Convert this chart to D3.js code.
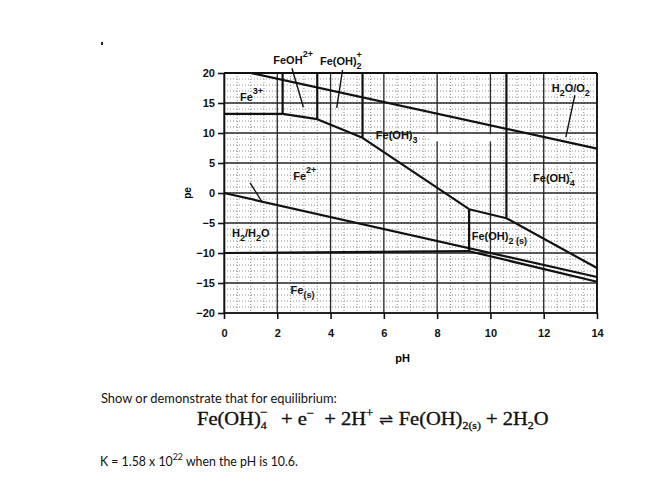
<!DOCTYPE html>
<html><head><meta charset="utf-8">
<script src="https://cdn.jsdelivr.net/npm/d3@7"></script>
<style>
body{margin:0;background:#fff;}
text{white-space:pre;}
</style></head>
<body>
<svg id="c" width="652" height="487"></svg>
<script>
// ---- data ----
const pHTicks = [0,2,4,6,8,10,12,14];
const peTicks = [20,15,10,5,0,-5,-10,-15,-20];
// boundary lines, [pH, pe]
const waterO2    = [[1.0,20],[14,7.4]];
const waterH2    = [[0,0],[14,-14.0]];
const fe3Fe2     = [[0,13.2],[2.2,13.2]];
const feoh2Fe2   = [[2.2,13.2],[3.5,12.3]];
const feoh2pFe2  = [[3.5,12.3],[5.2,9.2]];
const feoh3Fe2   = [[5.2,9.2],[9.2,-2.7]];
const feoh3Feoh2 = [[9.2,-2.7],[10.6,-4.2]];
const feoh4Feoh2 = [[10.6,-4.2],[14,-12.5]];
const fe2Feoh2   = [[9.2,-2.7],[9.2,-9.7]];
const fe2Fe      = [[0,-10],[9.2,-9.7]];
const feoh2Fe    = [[9.2,-9.7],[14,-14.8]];
const fe3Feoh    = [[2.2,13.2],[2.2,20]];
const feohFeoh2p = [[3.5,12.3],[3.5,20]];
const feoh2pFeoh3= [[5.2,9.2],[5.2,20]];
const feoh3Feoh4 = [[10.6,-4.2],[10.6,20]];
const boundaries = [waterO2,waterH2,fe3Fe2,feoh2Fe2,feoh2pFe2,feoh3Fe2,feoh3Feoh2,
  feoh4Feoh2,fe2Feoh2,fe2Fe,feoh2Fe,fe3Feoh,feohFeoh2p,feoh2pFeoh3,feoh3Feoh4];
// region labels: [main, sub, sup, pH, pe]
const labels = [
  ["Fe","","3+",0.6,15.4],
  ["FeOH","","2+",1.85,21.5],
  ["Fe(OH)","2","+",3.6,21.4],
  ["Fe","","2+",2.6,2.2],
  ["Fe(OH)","3","",5.7,9.0],
  ["Fe(OH)","4","-",11.6,1.8],
  ["Fe(OH)","2 (s)","",9.3,-7.8],
  ["Fe","(s)","",2.5,-16.8]
];
// pointer lines [[pH,pe],[pH,pe]]
const pointers = [
  [[2.55,20.8],[2.98,14.3]],
  [[4.45,20.5],[4.23,14.2]],
  [[13.17,16.3],[12.83,9.3]],
  [[0.98,1.7],[1.43,-1.5]]
];

const svg = d3.select("#c");
const x = d3.scaleLinear().domain([0,14]).range([224,597]);
const y = d3.scaleLinear().domain([-20,20]).range([313,73]);

// minor dotted grid
const g = svg.append("g");
g.selectAll(".mv").data(d3.range(0.5,14,0.5)).join("line")
  .attr("x1",d=>x(d)).attr("x2",d=>x(d)).attr("y1",y(20)).attr("y2",y(-20))
  .attr("stroke","#8f8f8f").attr("stroke-width",1).attr("stroke-dasharray","1,2");
g.selectAll(".mh").data(d3.range(-19,20,1)).join("line")
  .attr("y1",d=>y(d)).attr("y2",d=>y(d)).attr("x1",x(0)).attr("x2",x(14))
  .attr("stroke","#8f8f8f").attr("stroke-width",1).attr("stroke-dasharray","1,2");
// major grid
g.selectAll(".Mv").data(pHTicks).join("line")
  .attr("x1",d=>x(d)).attr("x2",d=>x(d)).attr("y1",y(20)).attr("y2",y(-20))
  .attr("stroke","#2a2a2a").attr("stroke-width",1.3);
g.selectAll(".Mh").data(peTicks).join("line")
  .attr("y1",d=>y(d)).attr("y2",d=>y(d)).attr("x1",x(0)).attr("x2",x(14))
  .attr("stroke","#2a2a2a").attr("stroke-width",1.3);

// erased patch
svg.append("rect").attr("x",x(7.7)).attr("y",y(9.8)).attr("width",x(10.2)-x(7.7)).attr("height",y(8.6)-y(9.8)).attr("fill","#fff");

// boundaries
const line = d3.line().x(d=>x(d[0])).y(d=>y(d[1]));
svg.append("g").selectAll("path").data(boundaries).join("path")
  .attr("d",line).attr("fill","none").attr("stroke","#111").attr("stroke-width",2.2);
svg.append("g").selectAll("path").data(pointers).join("path")
  .attr("d",line).attr("fill","none").attr("stroke","#111").attr("stroke-width",1.4);

// axes
const fnt = "'Liberation Sans', Arial, sans-serif";
const ax = svg.append("g").attr("transform",`translate(${x(0)},0)`)
  .call(d3.axisLeft(y).tickValues(peTicks).tickSize(6).tickSizeOuter(0).tickPadding(3));
const bx = svg.append("g").attr("transform",`translate(0,${y(-20)})`)
  .call(d3.axisBottom(x).tickValues(pHTicks).tickSize(6).tickSizeOuter(0).tickPadding(10));
[ax,bx].forEach(a=>{
  a.selectAll("path,line").attr("stroke","#111").attr("stroke-width",1.6);
  a.selectAll("text").attr("font-family",fnt).attr("font-size",11).attr("font-weight","bold").attr("fill","#111");
});
bx.select("path").remove();
svg.append("line").attr("x1",x(14)).attr("x2",x(14)).attr("y1",y(20)).attr("y2",y(-20))
  .attr("stroke","#111").attr("stroke-width",1.8);
svg.append("line").attr("x1",x(0)).attr("x2",x(14)).attr("y1",y(20)).attr("y2",y(20))
  .attr("stroke","#111").attr("stroke-width",1.8);
svg.append("line").attr("x1",x(0)).attr("x2",x(14)).attr("y1",y(-20)).attr("y2",y(-20))
  .attr("stroke","#111").attr("stroke-width",1.6);

svg.append("text").attr("transform",`translate(${x(0)-37},${y(0)}) rotate(-90)`)
  .attr("text-anchor","middle").attr("dy","0.35em").attr("font-family",fnt).attr("font-size",10).attr("font-weight","bold").text("pe");
svg.append("text").attr("x",x(6.7)).attr("y",362).attr("text-anchor","middle")
  .attr("font-family",fnt).attr("font-size",11).attr("font-weight","bold").text("pH");

// labels
labels.forEach(l=>{
  const t = svg.append("text").attr("x",x(l[3])).attr("y",y(l[4]))
    .attr("font-family",fnt).attr("font-size",11).attr("font-weight","bold").attr("fill","#111");
  t.append("tspan").text(l[0]);
  let cur = 0;
  if(l[1]){ t.append("tspan").attr("font-size",9).attr("dy",4).text(l[1]); cur=4; }
  if(l[2]){ t.append("tspan").attr("font-size",9).attr("dx",l[1]?-5:0).attr("dy",-7-cur).text(l[2]); }
});
// H2O/O2 and H2/H2O labels
function chem(parts, px, pe){
  const t = svg.append("text").attr("x",x(px)).attr("y",y(pe))
    .attr("font-family",fnt).attr("font-size",11).attr("font-weight","bold").attr("fill","#111");
  let cur=0;
  parts.forEach(p=>{
    const s = t.append("tspan").text(p[0]);
    if(p[1]){ s.attr("font-size",9).attr("dy",4-cur); cur=4; }
    else { s.attr("dy",-cur); cur=0; }
  });
}
chem([["H"],["2",1],["O/O"],["2",1]],12.3,16.8);
chem([["H"],["2",1],["/H"],["2",1],["O"]],0.3,-7.4);

// caption texts
function fit(sel, x0, w){
  const n = sel.node().getComputedTextLength();
  const y0 = +sel.attr("y");
  sel.attr("x",0).attr("y",0).attr("transform",`translate(${x0},${y0}) scale(${w/n},1)`);
}
const cal = "Lato, 'Open Sans', sans-serif";
const t1 = svg.append("text").attr("y",403).attr("font-family",cal).attr("font-size",12.5).attr("fill","#111")
  .text("Show or demonstrate that for equilibrium:");
fit(t1,101,236);

const eq = svg.append("text").attr("y",425).attr("font-family","'Liberation Serif','Times New Roman',serif")
  .attr("font-size",19).attr("fill","#111").attr("stroke","#111").attr("stroke-width",0.35);
const seg = (s,fs,dx,dy)=>eq.append("tspan").attr("font-size",fs).attr("dx",dx).attr("dy",dy).text(s);
seg("Fe(OH)",19,0,0);
seg("4",11,0,4);
seg("\u2212",12,-6,-13);
seg("  + e",19,3,9);
seg("\u2212",12,0,-8);
seg("  + 2H",19,0,8);
seg("+",12,0,-8);
seg(" \u21cc ",16,0,8).attr("font-family","'DejaVu Sans',sans-serif").attr("stroke-width",0);
seg("Fe(OH)",19,0,0);
seg("2(s)",11,0,4);
seg(" + 2H",19,0,-4);
seg("2",11,0,4);
seg("O",19,0,-4);
fit(eq,197,355);

const t3 = svg.append("text").attr("y",466).attr("font-family",cal).attr("font-size",12.5).attr("fill","#111");
t3.append("tspan").text("K = 1.58 x 10");
t3.append("tspan").attr("font-size",9).attr("dy",-6).text("22");
t3.append("tspan").attr("dy",6).text(" when the pH is 10.6.");
fit(t3,100,198);

svg.append("rect").attr("x",101).attr("y",42).attr("width",2).attr("height",3).attr("fill","#222");
</script>
</body></html>
